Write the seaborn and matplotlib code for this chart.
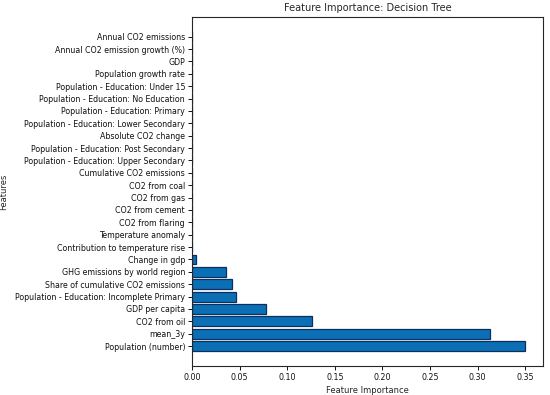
import matplotlib
matplotlib.use("Agg")
import matplotlib.pyplot as plt
import seaborn as sns
import pandas as pd

# Features, top to bottom as they appear in the chart
features = [
    "Annual CO2 emissions",
    "Annual CO2 emission growth (%)",
    "GDP",
    "Population growth rate",
    "Population - Education: Under 15",
    "Population - Education: No Education",
    "Population - Education: Primary",
    "Population - Education: Lower Secondary",
    "Absolute CO2 change",
    "Population - Education: Post Secondary",
    "Population - Education: Upper Secondary",
    "Cumulative CO2 emissions",
    "CO2 from coal",
    "CO2 from gas",
    "CO2 from cement",
    "CO2 from flaring",
    "Temperature anomaly",
    "Contribution to temperature rise",
    "Change in gdp",
    "GHG emissions by world region",
    "Share of cumulative CO2 emissions",
    "Population - Education: Incomplete Primary",
    "GDP per capita",
    "CO2 from oil",
    "mean_3y",
    "Population (number)",
]
importance = [
    0.0, 0.0, 0.0, 0.0, 0.0, 0.0, 0.0, 0.0, 0.0, 0.0, 0.0, 0.0, 0.0,
    0.0, 0.0, 0.0, 0.0, 0.0,
    0.004, 0.036, 0.042, 0.046, 0.078, 0.126, 0.313, 0.350,
]

df = pd.DataFrame({"feature": features, "importance": importance})

sns.set_style("ticks")
plt.rcParams["font.family"] = ["DejaVu Sans"]

fig, ax = plt.subplots(figsize=(5.5, 3.95), dpi=100)
sns.barplot(data=df, x="importance", y="feature", order=features,
            color="#0b6fb5", saturation=1, width=0.8,
            edgecolor="#0d2f5e", linewidth=0.9, ax=ax)

n = len(features)
ax.set_ylim(n - 1 + 1.59, -1.59)
ax.set_xlim(0, 0.369)
ax.set_xticks([0, 0.05, 0.10, 0.15, 0.20, 0.25, 0.30, 0.35])
ax.set_xticklabels(["0.00", "0.05", "0.10", "0.15", "0.20", "0.25", "0.30", "0.35"])
ax.tick_params(labelsize=5.7, length=3, width=0.7, pad=2, colors="#111111")
for s in ax.spines.values():
    s.set_visible(True)
    s.set_linewidth(0.8)
ax.set_title("Feature Importance: Decision Tree", fontsize=7, pad=4)
ax.set_xlabel("Feature Importance", fontsize=6, labelpad=3)
ax.set_ylabel("Features", fontsize=6)
ax.yaxis.set_label_coords(-0.522, 0.5)

plt.subplots_adjust(left=0.349, right=0.988, top=0.957, bottom=0.074)
fig.savefig("out.png", dpi=100)
